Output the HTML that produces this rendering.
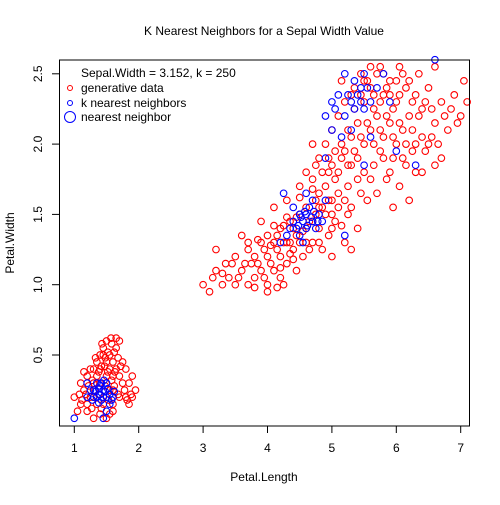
<!DOCTYPE html>
<html><head><meta charset="utf-8"><style>
body{margin:0;background:#fff;font-family:"Liberation Sans",sans-serif}
</style></head><body>
<svg id="c" width="500" height="500" xmlns="http://www.w3.org/2000/svg" font-family="Liberation Sans, sans-serif">
<rect width="500" height="500" fill="#fff"/>
<text x="264" y="35" font-size="12" text-anchor="middle">K Nearest Neighbors for a Sepal Width Value</text>
<g id="pts"></g>
<rect x="59.5" y="60" width="410" height="366" fill="none" stroke="#000"/>
<g id="axes"></g>
<text x="264" y="481" font-size="12" text-anchor="middle">Petal.Length</text>
<text x="0" y="0" font-size="12" text-anchor="middle" transform="translate(14,243) rotate(-90)">Petal.Width</text>
<g font-size="12">
<text x="81" y="77">Sepal.Width = 3.152, k = 250</text>
<circle cx="70" cy="88" r="2.5" fill="none" stroke="red"/>
<text x="81" y="92">generative data</text>
<circle cx="70" cy="103" r="2.5" fill="none" stroke="blue"/>
<text x="81" y="107">k nearest neighbors</text>
<circle cx="70" cy="117" r="5.5" fill="none" stroke="blue"/>
<text x="81" y="121">nearest neighbor</text>
</g>
</svg>
<script>
const xTicks=[1,2,3,4,5,6,7];
const yTicks=[0.5,1.0,1.5,2.0,2.5];
const yTickLabels=["0.5","1.0","1.5","2.0","2.5"];
const redPts="1.0,0.2 1.1,0.15 1.2,0.1 1.15,0.25 1.3,0.3 1.3,0.4 1.35,0.45 1.4,0.5 1.45,0.55 1.5,0.6 1.55,0.5 1.6,0.45 1.65,0.55 1.7,0.6 1.75,0.45 1.6,0.35 1.5,0.35 1.4,0.3 1.25,0.2 1.3,0.05 1.5,0.05 1.6,0.1 1.7,0.2 1.8,0.2 1.9,0.2 1.95,0.25 1.85,0.15 1.75,0.3 1.55,0.25 1.45,0.15 1.35,0.15 1.2,0.35 1.1,0.3 1.05,0.1 1.25,0.4 1.4,0.4 1.5,0.45 1.6,0.25 1.7,0.35 1.85,0.3 1.9,0.35 1.55,0.4 1.45,0.5 1.35,0.35 1.65,0.4 1.8,0.4 1.5,0.2 1.3,0.2 1.6,0.15 1.2,0.15 "+
"1.32,0.25 1.38,0.38 1.42,0.42 1.48,0.48 1.52,0.52 1.58,0.58 1.62,0.52 1.68,0.48 1.72,0.42 1.28,0.32 1.22,0.28 1.18,0.22 1.12,0.18 1.42,0.12 1.58,0.32 1.62,0.28 1.68,0.22 1.78,0.25 1.82,0.18 1.88,0.22 1.48,0.28 1.52,0.38 1.38,0.22 1.33,0.48 1.43,0.58 1.57,0.62 1.63,0.38 1.47,0.42 1.53,0.18 1.27,0.12 1.08,0.22 1.15,0.38 1.4,0.08 1.65,0.62 1.55,0.08 "+
"3.0,1.0 3.1,0.95 3.2,1.1 3.3,1.0 3.35,1.15 3.4,1.05 3.5,1.0 3.5,1.2 3.6,1.1 3.7,1.0 3.7,1.25 3.8,1.05 3.8,1.2 3.9,1.1 3.9,1.3 4.0,1.0 4.0,1.2 4.0,1.35 4.1,1.1 4.1,1.3 4.2,1.2 4.2,1.4 4.2,1.05 4.3,1.3 4.3,1.15 4.35,1.45 4.4,1.25 4.4,1.4 4.45,1.1 4.5,1.3 4.5,1.5 4.55,1.2 4.6,1.4 4.6,1.55 4.7,1.3 4.7,1.45 4.75,1.6 4.8,1.4 4.8,1.55 4.85,1.25 4.9,1.5 4.95,1.35 5.0,1.2 5.05,1.45 5.1,1.55 5.2,1.3 5.3,1.25 5.4,1.4 3.2,1.25 3.6,1.35 3.9,1.45 4.1,1.55 4.3,1.6 4.0,0.95 3.75,1.15 3.45,1.15 4.25,1.0 4.65,1.25 "+
"3.55,1.05 3.65,1.15 3.85,1.15 3.95,1.25 4.05,1.15 4.05,1.28 4.15,1.25 4.15,1.35 4.25,1.3 4.25,1.42 4.35,1.3 4.35,1.22 4.45,1.35 4.45,1.48 4.55,1.38 4.65,1.45 4.75,1.5 4.85,1.55 4.95,1.6 3.3,1.08 3.15,1.05 3.85,1.32 3.95,1.05 4.1,1.42 4.3,1.48 4.5,1.62 4.7,1.68 4.2,1.12 4.4,1.18 4.6,1.3 4.8,1.3 5.0,1.4 5.15,1.42 5.25,1.5 3.7,1.3 3.8,0.98 4.15,0.98 "+
"4.5,1.7 4.6,1.8 4.7,1.75 4.8,1.9 4.9,1.7 4.9,2.0 5.0,1.85 5.0,2.1 5.0,1.6 5.1,1.8 5.1,2.2 5.2,1.95 5.2,2.3 5.25,1.7 5.3,2.05 5.3,1.85 5.35,2.4 5.4,1.9 5.4,2.15 5.45,2.5 5.5,1.8 5.5,2.0 5.5,2.3 5.55,1.6 5.6,2.1 5.6,2.4 5.65,1.85 5.7,2.2 5.7,2.5 5.75,1.95 5.8,2.05 5.8,2.35 5.85,1.75 5.9,2.15 5.9,2.45 5.95,1.9 6.0,2.0 6.0,2.3 6.05,1.7 6.1,2.1 6.1,2.5 6.15,1.85 6.2,2.2 6.25,1.95 6.3,2.35 6.3,1.8 6.4,2.05 6.4,2.25 6.5,2.0 6.5,2.4 6.6,2.15 6.7,2.3 6.7,1.9 6.8,2.1 6.9,2.35 7.0,2.2 7.05,2.45 7.1,2.3 6.6,2.55 5.6,2.55 5.2,1.6 5.0,1.5 4.8,1.65 5.3,1.55 5.7,1.65 5.95,1.55 6.2,1.6 6.05,2.55 4.7,2.0 5.15,2.45 5.45,1.65 5.75,2.55 6.35,2.5 "+
"4.75,1.85 4.85,1.8 4.95,1.9 5.05,1.95 5.05,1.75 5.15,1.9 5.15,2.0 5.25,1.85 5.25,2.1 5.35,1.95 5.35,2.25 5.45,2.05 5.45,2.35 5.55,2.15 5.55,2.45 5.65,2.25 5.65,2.0 5.75,2.3 5.75,2.1 5.85,2.2 5.85,2.4 5.95,2.25 5.95,2.05 6.05,2.35 6.05,2.15 6.15,2.4 6.15,2.0 6.25,2.3 6.25,2.1 6.35,2.2 6.45,2.3 6.55,2.25 6.45,1.95 6.55,2.05 6.65,2.0 6.75,2.2 6.85,2.25 6.95,2.15 5.9,1.8 6.1,1.9 6.3,2.0 5.6,1.75 5.4,1.75 5.8,1.9 5.5,2.45 5.8,2.5 6.0,2.45 6.2,2.45 5.3,2.35 5.65,2.35 5.9,2.35 5.1,1.65 4.95,1.8 6.6,1.85 6.4,1.8";
const bluePts="1.0,0.05 1.2,0.2 1.25,0.25 1.3,0.2 1.3,0.25 1.35,0.2 1.4,0.22 1.4,0.28 1.45,0.2 1.45,0.25 1.5,0.2 1.5,0.3 1.55,0.22 1.6,0.2 1.5,0.1 1.55,0.15 1.45,0.05 1.35,0.3 1.2,0.3 1.28,0.18 1.33,0.24 1.38,0.26 1.42,0.18 1.48,0.24 1.52,0.26 1.58,0.18 1.62,0.24 1.38,0.16 1.42,0.3 1.46,0.32 "+
"4.2,1.3 4.3,1.35 4.35,1.4 4.4,1.45 4.45,1.4 4.5,1.35 4.5,1.5 4.55,1.45 4.6,1.4 4.6,1.5 4.65,1.55 4.7,1.45 4.7,1.6 4.75,1.4 4.8,1.5 4.85,1.45 4.4,1.55 4.6,1.65 4.25,1.65 4.9,1.6 4.55,1.3 5.2,1.35 4.62,1.42 4.68,1.48 4.72,1.52 4.78,1.45 4.52,1.48 4.58,1.52 4.48,1.42 "+
"4.9,2.2 5.0,2.3 5.1,2.35 5.2,2.2 5.3,2.3 5.35,2.45 5.4,2.35 5.5,2.5 5.5,2.25 5.6,2.3 5.7,2.4 5.8,2.5 5.9,2.3 5.3,2.1 5.2,2.5 5.0,2.1 5.6,2.05 5.5,1.85 6.0,1.95 6.3,1.85 6.6,2.6 4.9,1.9 5.15,2.05 5.45,2.4 5.05,2.25 5.25,2.35 5.35,2.25 5.45,2.3 5.55,2.4";
function parse(s){return s.trim().split(/\s+/).map(p=>p.split(',').map(Number));}
const X=v=>74.3+(v-1)*64.4;
const Y=v=>425.3-v*140.6;
const ns="http://www.w3.org/2000/svg";
const g=document.getElementById('pts');
function draw(arr,col,name){
 for(const [a,b] of arr){
  const c=document.createElementNS(ns,'circle');
  c.setAttribute('cx',X(a));c.setAttribute('cy',Y(b));c.setAttribute('r',3.3);
  c.setAttribute('fill','none');c.setAttribute('stroke',col);c.setAttribute('stroke-width','1.1');
  
  
  g.appendChild(c);
 }
}
draw(parse(redPts),'red','generative-point');
draw(parse(bluePts),'blue','neighbor-point');
const ax=document.getElementById('axes');
for(const t of xTicks){
 const l=document.createElementNS(ns,'line');
 l.setAttribute('x1',X(t));l.setAttribute('x2',X(t));l.setAttribute('y1',426);l.setAttribute('y2',433);l.setAttribute('stroke','#000');
 
 
 ax.appendChild(l);
 const tx=document.createElementNS(ns,'text');
 tx.setAttribute('x',X(t));tx.setAttribute('y',452);tx.setAttribute('font-size','12');tx.setAttribute('text-anchor','middle');
 tx.textContent=String(t);
 
 
 ax.appendChild(tx);
}
yTicks.forEach((t,i)=>{
 const l=document.createElementNS(ns,'line');
 l.setAttribute('x1',52);l.setAttribute('x2',59.5);l.setAttribute('y1',Y(t));l.setAttribute('y2',Y(t));l.setAttribute('stroke','#000');
 
 
 ax.appendChild(l);
 const tx=document.createElementNS(ns,'text');
 tx.setAttribute('font-size','12');tx.setAttribute('text-anchor','middle');
 tx.setAttribute('transform','translate(42,'+Y(t)+') rotate(-90)');
 tx.textContent=yTickLabels[i];
 
 
 ax.appendChild(tx);
});
</script>
</body></html>
